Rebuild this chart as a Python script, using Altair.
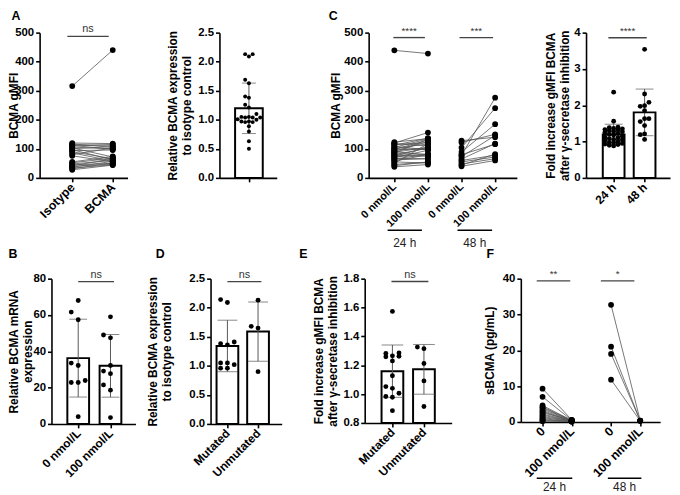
import json
import altair as alt
import pandas as pd

# ---------------- data ----------------
# A (left): paired BCMA gMFI
a_cats = ["Isotype", "BCMA"]
a_iso = [316, 120, 117, 114, 112, 110, 106, 103, 100, 97, 94, 90, 86, 80, 76, 55, 52, 48, 45, 42, 40, 37, 34, 31, 28]
a_bcma = [440, 118, 105, 112, 98, 115, 100, 72, 108, 62, 96, 66, 58, 103, 55, 74, 68, 60, 50, 65, 47, 57, 45, 52, 44]
# A (right): relative BCMA expression
a_rel = [2.13, 2.09, 2.13, 1.69, 1.63, 1.40, 1.38, 1.21, 1.26, 1.05, 1.05, 1.04, 1.10, 1.04, 1.04,
         0.97, 1.00, 1.01, 0.96, 0.96, 0.97, 0.89, 0.80, 0.63, 0.50]
# C (left): paired gMFI, 24 h and 48 h
c_cats = ["0 nmol/L", "100 nmol/L", "0 nmol/L", "100 nmol/L"]
c24_0 = [439, 123, 120, 118, 115, 112, 108, 105, 102, 100, 98, 95, 92, 90, 88, 85, 82, 80, 78, 75,
         72, 70, 67, 65, 62, 58, 55, 50, 46, 42, 38]
c24_100 = [428, 135, 156, 110, 121, 137, 97, 134, 117, 97, 130, 103, 125, 79, 106, 133, 82, 102, 74, 105,
           81, 95, 66, 81, 66, 80, 51, 118, 54, 55, 46]
c48_0 = [128, 122, 104, 89, 80, 78, 73, 65, 60, 55, 48, 44, 40]
c48_100 = [140, 150, 240, 185, 116, 276, 146, 118, 78, 72, 66, 82, 60]
# C (right): fold increase
cf_cats = ["24 h", "48 h"]
cf_24 = [2.36, 1.56, 1.40, 1.38, 1.36, 1.35, 1.33, 1.32, 1.30, 1.28, 1.27, 1.25, 1.22, 1.20, 1.18,
         1.15, 1.12, 1.10, 1.08, 1.06, 1.05, 1.03, 1.00, 0.98, 0.97, 0.95, 0.93, 0.92, 0.90, 0.88]
cf_48 = [3.54, 2.31, 2.08, 1.99, 1.97, 1.85, 1.63, 1.63, 1.55, 1.44, 1.21, 1.19, 1.06]
# B: mRNA
b_cats = ["0 nmol/L", "100 nmol/L"]
b_0 = [68.0, 61.6, 57.4, 33.5, 32.2, 23.9, 22.8, 22.8, 4.0]
b_100 = [59.0, 49.0, 47.4, 32.2, 29.1, 27.7, 21.5, 18.6, 3.5]
# D: relative expression by mutation status
mu_cats = ["Mutated", "Unmutated"]
d_mut = [2.09, 2.14, 1.38, 1.41, 1.36, 1.05, 1.02, 0.96, 1.05, 0.96]
d_unmut = [2.13, 1.68, 1.65, 0.90]
# E: fold increase by mutation status
e_mut = [1.573, 1.285, 1.258, 1.265, 1.262, 1.281, 1.230, 1.127, 1.040, 1.052, 1.006, 0.983, 0.978, 0.885]
e_unmut = [1.326, 1.315, 1.212, 1.091, 0.914]
# F: sBCMA
f_cats = ["0", "100 nmol/L", "0", "100 nmol/L"]
f24_0 = [9.3, 7.0, 4.6, 4.2, 4.0, 3.6, 3.2, 2.9, 2.6, 2.2, 1.9, 1.5, 1.2, 0.9, 0.6, 0.4, 0.2]
f24_100 = [0.6, 0.5, 0.4, 0.5, 0.3, 0.4, 0.3, 0.2, 0.4, 0.3, 0.2, 0.3, 0.2, 0.1, 0.2, 0.1, 0.1]
f48_0 = [32.7, 21.0, 19.0, 11.8]
f48_100 = [0.4, 0.3, 0.4, 0.3]

# ---------------- layout ----------------
OFF = 8
W, H = 672, 487
FONT = "Liberation Sans"
F_GAP = 2.35  # group offset of the 48 h pair in panel F

# tx = horizontal centre of the first line of the y title (page px)
GA1 = dict(x0=40, x1=129, c0=73, step=41, yb=177, yt=30, ydom=[0, 500], tx=13.5, lf=12.5)
GA2 = dict(x0=222, x1=280, c0=252, step=58, yb=177, yt=30, ydom=[0, 2.5], tx=175, lf=12)
GC1 = dict(x0=373, x1=523, c0=399, step=34, yb=177, yt=30, ydom=[0, 500], tx=340, lf=11)
GC2 = dict(x0=593, x1=678, c0=619, step=35.5, yb=177, yt=30, ydom=[0, 4], tx=557, lf=12)
GB = dict(x0=52, x1=137, c0=77, step=37, yb=426, yt=279, ydom=[0, 80], tx=13.5, lf=12)
GD = dict(x0=213, x1=285, c0=227, step=36, yb=426, yt=279, ydom=[0, 2.5], tx=154, lf=12)
GE = dict(x0=369, x1=457, c0=395, step=36, yb=425, yt=279, ydom=[0.8, 1.8], tx=322, lf=12)
GF = dict(x0=527, x1=668, c0=549, step=29.5, yb=424, yt=279, ydom=[0, 40], tx=495, lf=12.5)


def xsc(g):
    return alt.Scale(domain=[(g["x0"] - g["c0"]) / g["step"], (g["x1"] - g["c0"]) / g["step"]],
                     range=[g["x0"] - OFF, g["x1"] - OFF], nice=False, zero=False)


def ysc(g):
    return alt.Scale(domain=g["ydom"], range=[g["yb"] - OFF, g["yt"] - OFF], nice=False, zero=False)


def lab_expr(pos, names):
    s = ""
    for i in range(len(pos) - 1):
        s += f"datum.value < {(pos[i] + pos[i + 1]) / 2} ? {json.dumps(names[i])} : "
    return s + json.dumps(names[-1])


def xax(g, pos, names):
    return alt.Axis(orient="bottom", offset=-(H - (g["yb"] - OFF)), values=pos,
                    labelExpr=lab_expr(pos, names), title=None, labelAngle=315,
                    labelAlign="right", labelBaseline="middle", labelPadding=3,
                    labelFontSize=g["lf"])


def yax(g, title, vals, fmt):
    return alt.Axis(orient="left", offset=-(g["x0"] - OFF), values=vals, format=fmt, title=title,
                    titleX=g["tx"] - g["x0"], titleY=(g["yb"] + g["yt"]) / 2 - OFF,
                    titleAngle=270, titleAlign="center", titleBaseline="middle")


def swarm(vals, ppu, diam, maxoff):
    order = sorted(range(len(vals)), key=lambda i: vals[i])
    cands = [0.0]
    k = 1
    while k * diam <= maxoff + 1e-9:
        cands += [-k * diam, k * diam]
        k += 1
    placed, offs = [], [0.0] * len(vals)
    for i in order:
        y = vals[i] * ppu
        best, bestd = 0.0, -1
        for c in cands:
            d = min([((y - py) ** 2 + (c - px) ** 2) ** 0.5 for py, px in placed] or [1e9])
            if d >= diam:
                best = c
                break
            if d > bestd:
                bestd, best = d, c
        placed.append((y, best))
        offs[i] = best
    return offs


class P:
    """Shared scales and axes of one panel."""
    def __init__(self, g, pos, names, ytitle, yvals, yfmt):
        self.g = g
        self.xa = xax(g, pos, names)
        self.ya = yax(g, ytitle, yvals, yfmt)

    def X(self, f):
        return alt.X(f, scale=xsc(self.g), axis=self.xa)

    def Y(self, f):
        return alt.Y(f, scale=ysc(self.g), axis=self.ya)


def sig_layers(p, items, fs):
    df = pd.DataFrame(items, columns=["xa", "xb", "y", "label"])
    df["xm"] = (df["xa"] + df["xb"]) / 2
    rule = alt.Chart(df).mark_rule(color="#444", strokeWidth=1.4).encode(
        x=p.X("xa:Q"), x2="xb:Q", y=p.Y("y:Q"))
    txt = alt.Chart(df).mark_text(baseline="alphabetic", dy=-4, fontSize=fs, font=FONT,
                                  color="#333").encode(
        x=p.X("xm:Q"), y=p.Y("y:Q"), text="label:N")
    return [rule, txt]


def under_layers(p, items, yline, ytext):
    df = pd.DataFrame(items, columns=["xa", "xb", "label"])
    df["xm"] = (df["xa"] + df["xb"]) / 2
    rule = alt.Chart(df).mark_rule(color="black", strokeWidth=1.4).encode(
        x=p.X("xa:Q"), x2="xb:Q", y=alt.value(yline - OFF))
    txt = alt.Chart(df).mark_text(baseline="middle", fontSize=12, font=FONT, color="#222").encode(
        x=p.X("xm:Q"), y=alt.value(ytext - OFF), text="label:N")
    return [rule, txt]


def paired_panel(p, groups, pos, size, extra):
    rows, pid = [], 0
    for gi, (v0, v1) in enumerate(groups):
        for a, b in zip(v0, v1):
            rows.append(dict(pair=pid, pos=pos[2 * gi], value=a))
            rows.append(dict(pair=pid, pos=pos[2 * gi + 1], value=b))
            pid += 1
    base = alt.Chart(pd.DataFrame(rows))
    lines = base.mark_line(color="#555", strokeWidth=0.8).encode(
        x=p.X("pos:Q"), y=p.Y("value:Q"), detail="pair:N")
    pts = base.mark_circle(size=size, color="black", opacity=1).encode(
        x=p.X("pos:Q"), y=p.Y("value:Q"))
    return alt.layer(lines, pts, *extra)


def bar_panel(p, groups, pos, bar_w, cap_w, size, diam, maxoff, extra):
    g = p.g
    ppu = (g["yb"] - g["yt"]) / (g["ydom"][1] - g["ydom"][0])
    rows = []
    for ps, vals in zip(pos, groups):
        offs = swarm(vals, ppu, diam, maxoff)
        for v, o in zip(vals, offs):
            rows.append(dict(pos=ps, jit=ps + o / g["step"], value=v))
    base = alt.Chart(pd.DataFrame(rows))
    bars = base.mark_bar(size=bar_w, fill="white", stroke="black", strokeWidth=2).encode(
        x=p.X("pos:Q"), y=p.Y("mean(value):Q"), y2=alt.datum(g["ydom"][0]))
    err = base.transform_aggregate(m="mean(value)", s="stdev(value)", groupby=["pos"]).transform_calculate(
        lo="datum.m - datum.s", hi="datum.m + datum.s")
    rule = err.mark_rule(color="#555", strokeWidth=1).encode(
        x=p.X("pos:Q"), y=p.Y("lo:Q"), y2="hi:Q")
    cap_lo = err.mark_tick(orient="horizontal", size=cap_w, thickness=1, color="#555").encode(
        x=p.X("pos:Q"), y=p.Y("lo:Q"))
    cap_hi = err.mark_tick(orient="horizontal", size=cap_w, thickness=1, color="#555").encode(
        x=p.X("pos:Q"), y=p.Y("hi:Q"))
    pts = base.mark_circle(size=size, color="black", opacity=1).encode(
        x=p.X("jit:Q"), y=p.Y("value:Q"))
    return alt.layer(bars, rule, cap_lo, cap_hi, pts, *extra)


dummy = pd.DataFrame({"a": [0]})


def letter(t, xp, yp):
    return alt.Chart(dummy).mark_text(text=t, font=FONT, fontSize=12.5, fontWeight="bold",
                                      align="center", baseline="alphabetic", color="black").encode(
        x=alt.value(xp - OFF), y=alt.value(yp - OFF))


t500 = [0, 100, 200, 300, 400, 500]
t25 = [0, 0.5, 1.0, 1.5, 2.0, 2.5]
fold_title = ["Fold increase  gMFI BCMA", "after \u03b3-secretase inhibition"]
rel_title = ["Relative BCMA expression", "to isotype control"]

P_A1 = P(GA1, [0, 1], a_cats, "BCMA gMFI", t500, "d")
P_A2 = P(GA2, [0], [""], rel_title, t25, ".1f")
P_C1 = P(GC1, [0, 1, 2, 3], c_cats, "BCMA gMFI", t500, "d")
P_C2 = P(GC2, [0, 1], cf_cats, fold_title, [0, 1, 2, 3, 4], "d")
P_B = P(GB, [0, 1], b_cats, ["Relative BCMA mRNA", "expression"], [0, 20, 40, 60, 80], "d")
P_D = P(GD, [0, 1], mu_cats, rel_title, t25, ".1f")
P_E = P(GE, [0, 1], mu_cats, fold_title, [0.8, 1.0, 1.2, 1.4, 1.6, 1.8], ".1f")
P_F = P(GF, [0, 1, F_GAP, F_GAP + 1], f_cats, "sBCMA (pg/mL)", [0, 10, 20, 30, 40], "d")

pA1 = paired_panel(P_A1, [(a_iso, a_bcma)], [0, 1], 34,
                   sig_layers(P_A1, [(-0.12, 0.9, 487, "ns")], 11))
pA2 = bar_panel(P_A2, [a_rel], [0], 28, 14, 16, 4.6, 15, [])
pC1 = paired_panel(P_C1, [(c24_0, c24_100), (c48_0, c48_100)], [0, 1, 2, 3], 34,
                   sig_layers(P_C1, [(-0.03, 0.91, 483, "****"), (1.94, 2.94, 483, "***")], 10)
                   + under_layers(P_C1, [(-0.2, 0.82, "24 h"), (1.88, 2.91, "48 h")], 230, 243))
pC2 = bar_panel(P_C2, [cf_24, cf_48], [0, 1], 22, 18, 24, 5, 12,
                sig_layers(P_C2, [(-0.17, 1.07, 3.86, "****")], 10))
pB = bar_panel(P_B, [b_0, b_100], [0, 1], 22, 18, 24, 8, 11,
               sig_layers(P_B, [(0, 1.11, 78.4, "ns")], 11))
pD = bar_panel(P_D, [d_mut, d_unmut], [0, 1], 22, 20, 24, 8, 11,
               sig_layers(P_D, [(0, 1.11, 2.45, "ns")], 11))
pE = bar_panel(P_E, [e_mut, e_unmut], [0, 1], 22, 22, 24, 7.5, 14,
               sig_layers(P_E, [(-0.03, 1.14, 1.78, "ns")], 11))
pF = paired_panel(P_F, [(f24_0, f24_100), (f48_0, f48_100)], [0, 1, F_GAP, F_GAP + 1], 34,
                  sig_layers(P_F, [(-0.2, 0.95, 39.4, "**"), (2.0, 3.15, 39.4, "*")], 10)
                  + under_layers(P_F, [(-0.2, 1.02, "24 h"), (2.24, 3.39, "48 h")], 481, 490))

letters = [letter("A", 16, 17), letter("C", 337, 17), letter("B", 13, 258),
           letter("D", 162, 258), letter("E", 307, 258), letter("F", 496, 258)]

chart = alt.layer(pA1, pA2, pC1, pC2, pB, pD, pE, pF, *letters).resolve_scale(
    x="independent", y="independent"
).properties(
    width=W, height=H, autosize=alt.AutoSizeParams(type="none"), padding=0
).configure_view(stroke=None).configure_axis(
    grid=False, domainColor="black", domainWidth=1.6, tickColor="black", tickWidth=1.6,
    tickSize=4, labelFont=FONT, labelFontSize=11.5, labelFontWeight="bold", labelColor="black",
    titleFont=FONT, titleFontSize=12, titleFontWeight="bold", titleColor="black",
    titleLineHeight=14, labelPadding=2, labelFlush=False, labelOverlap=False
)

chart.save("out.html", embed_options={"renderer": "svg", "actions": False})
